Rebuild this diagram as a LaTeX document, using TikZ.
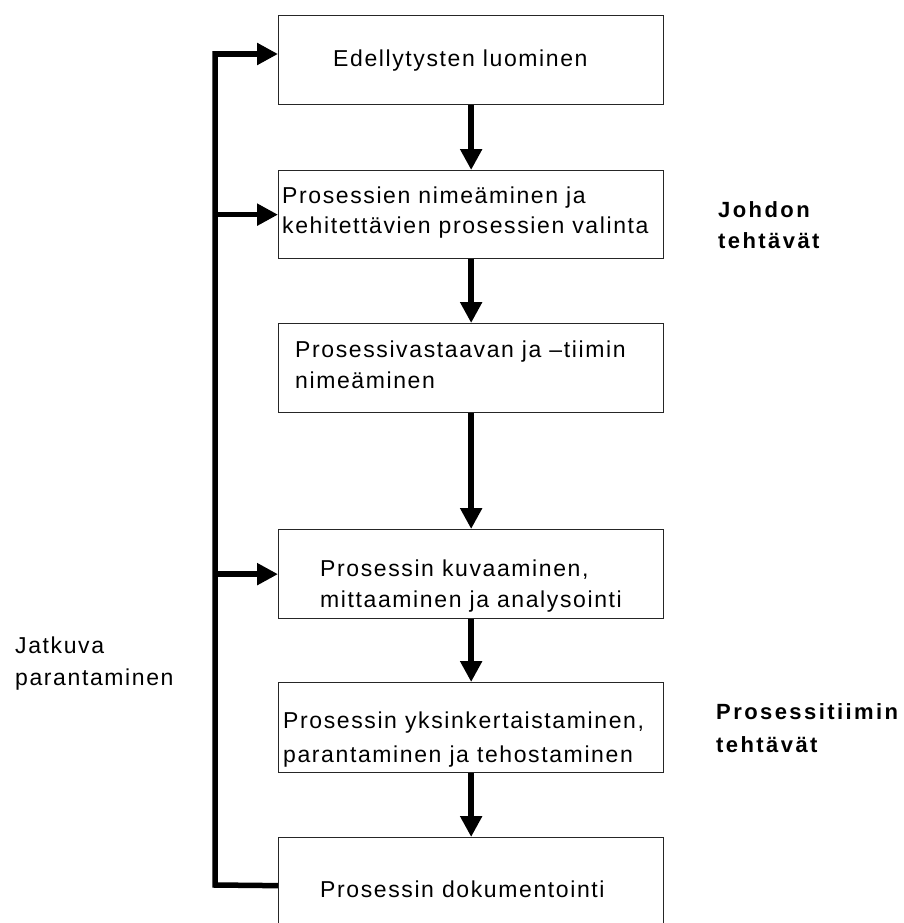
\documentclass[tikz,border=0pt]{standalone}
\usepackage{fontspec}
\setmainfont{Liberation Sans}
\newfontfamily\boxfont[LetterSpace=7]{Liberation Sans}
\newfontfamily\boldfont[LetterSpace=11]{Liberation Sans Bold}
\usetikzlibrary{arrows.meta}
\tikzset{
  boxnode/.style={draw=black!85, line width=1.3pt, fill=white, rectangle, inner sep=0pt, minimum width=385pt, anchor=north west},
  txt/.style={anchor=base west, inner sep=0pt, font=\boxfont\fontsize{23}{30}\selectfont},
  btxt/.style={anchor=base west, inner sep=0pt, font=\boldfont\fontsize{22}{30}\selectfont},
  flow/.style={line width=5.5pt, -{Triangle[length=21pt,width=21pt]}},
  loopline/.style={line width=5.5pt, line join=miter}
}
\begin{document}
\begin{tikzpicture}[x=1pt,y=-1pt]
\useasboundingbox (0,0) rectangle (904,923);
\clip (0,0) rectangle (904,923);
% boxes
\node[boxnode, minimum height=89pt] (b1) at (278,15) {};
\node[boxnode, minimum height=88pt] (b2) at (278,170) {};
\node[boxnode, minimum height=89pt] (b3) at (278,323) {};
\node[boxnode, minimum height=89pt] (b4) at (278,529) {};
\node[boxnode, minimum height=90pt] (b5) at (278,682) {};
\node[boxnode, minimum height=96pt] (b6) at (278,837) {};
% box texts
\node[txt] (t1) at (333,67) {Edellytysten luominen};
\node[txt] (t2a) at (282,203) {Prosessien nimeäminen ja};
\node[txt] (t2b) at (282,233) {kehitettävien prosessien valinta};
\node[txt] (t3a) at (295,357) {Prosessivastaavan ja –tiimin};
\node[txt] (t3b) at (295,388) {nimeäminen};
\node[txt] (t4a) at (320,576) {Prosessin kuvaaminen,};
\node[txt] (t4b) at (320,607) {mittaaminen ja analysointi};
\node[txt] (t5a) at (283,728) {Prosessin yksinkertaistaminen,};
\node[txt] (t5b) at (283,762) {parantaminen ja tehostaminen};
\node[txt] (t6) at (320,897) {Prosessin dokumentointi};
% side labels
\node[txt] (j1) at (15,653) {Jatkuva};
\node[txt] (j2) at (15,685) {parantaminen};
\node[btxt] (r1) at (718,217) {Johdon};
\node[btxt] (r2) at (718,248) {tehtävät};
\node[btxt] (r3) at (716,719) {Prosessitiimin};
\node[btxt] (r4) at (716,752) {tehtävät};
% flow arrows
\draw[flow] (b1.south) -- (b2.north);
\draw[flow] (b2.south) -- (b3.north);
\draw[flow] (b3.south) -- (b4.north);
\draw[flow] (b4.south) -- (b5.north);
\draw[flow] (b5.south) -- (b6.north);
% feedback loop
\coordinate (L6) at (215,885);
\coordinate (L1) at (215,54);
\draw[loopline] (b6.west) -- (L6) -- (L1) -- ++(2,0);
\draw[flow] (L1) -- (L1 -| b1.west);
\draw[flow] (L6 |- b2.west) -- (b2.west);
\draw[flow] (L6 |- b4.west) -- (b4.west);
\end{tikzpicture}
\end{document}
